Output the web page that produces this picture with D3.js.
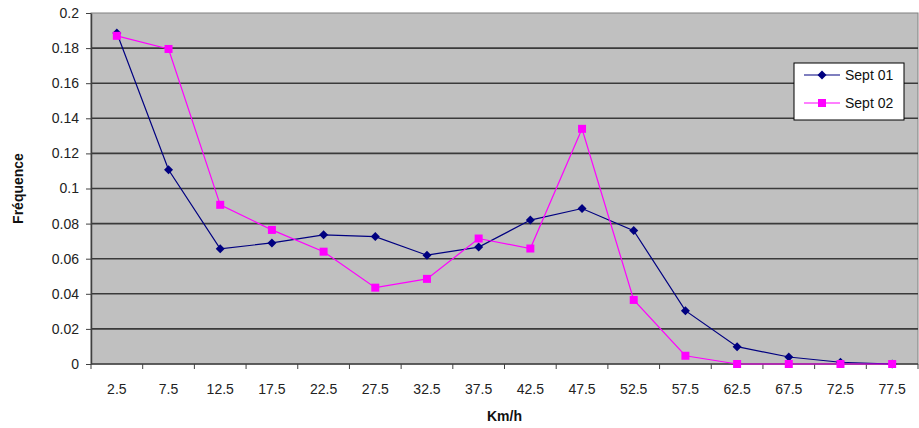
<!DOCTYPE html>
<html>
<head>
<meta charset="utf-8">
<script src="https://cdn.jsdelivr.net/npm/d3@7"></script>
<style>
  html, body { margin: 0; padding: 0; background: #fff; }
  svg { display: block; font-family: Arial, "Liberation Sans", sans-serif; }
</style>
</head>
<body>
<svg id="chart" width="919" height="428"></svg>
<script>
// Speed classes (km/h) and frequency per class
const speeds = ["2.5","7.5","12.5","17.5","22.5","27.5","32.5","37.5","42.5","47.5","52.5","57.5","62.5","67.5","72.5","77.5"];
const sept01 = [0.1886,0.1107,0.0656,0.069,0.0736,0.0726,0.062,0.0666,0.082,0.0886,0.076,0.0304,0.0099,0.004,0.001,0];
const sept02 = [0.187,0.1795,0.0907,0.0764,0.064,0.0435,0.0485,0.0715,0.0658,0.134,0.0365,0.0047,0,0,0,0];
const yTicks = [0,0.02,0.04,0.06,0.08,0.1,0.12,0.14,0.16,0.18,0.2];
const seriesNames = ["Sept 01","Sept 02"];

const svg = d3.select("#chart");
const plot = {left: 91, top: 13, right: 918, bottom: 364};

const x = d3.scaleBand().domain(speeds).range([plot.left, plot.right]);
const y = d3.scaleLinear().domain([0, 0.2]).range([plot.bottom, plot.top]);

// plot background
svg.append("rect")
  .attr("x", plot.left).attr("y", plot.top)
  .attr("width", plot.right - plot.left).attr("height", plot.bottom - plot.top)
  .attr("fill", "#c0c0c0").attr("stroke", "#808080").attr("stroke-width", 1);

// horizontal gridlines
svg.append("g").selectAll("line").data(yTicks.filter(d => d > 0 && d < 0.2)).join("line")
  .attr("x1", plot.left).attr("x2", plot.right)
  .attr("y1", d => y(d)).attr("y2", d => y(d))
  .attr("stroke", "#3a3a3a").attr("stroke-width", 1.6);

// y axis
const yAxis = svg.append("g").attr("transform", `translate(${plot.left},0)`)
  .call(d3.axisLeft(y).tickValues(yTicks).tickFormat(d => String(+d.toFixed(2))).tickSizeOuter(0).tickSizeInner(5).tickPadding(7));
yAxis.select(".domain").attr("stroke", "#404040").attr("stroke-width", 1.5);
yAxis.selectAll(".tick line").attr("stroke", "#404040");
yAxis.selectAll("text").attr("font-size", 14).attr("fill", "#222");

// x axis: ticks sit on category boundaries
const xAxis = svg.append("g").attr("transform", `translate(0,${plot.bottom})`);
xAxis.append("line").attr("x1", plot.left).attr("x2", plot.right).attr("stroke", "#404040").attr("stroke-width", 1.5);
xAxis.selectAll("line.tk").data(speeds.concat(["end"])).join("line").attr("class", "tk")
  .attr("x1", (d, i) => plot.left + i * x.bandwidth()).attr("x2", (d, i) => plot.left + i * x.bandwidth())
  .attr("y1", 0).attr("y2", 5).attr("stroke", "#404040");
xAxis.selectAll("text").data(speeds).join("text")
  .attr("x", d => x(d) + x.bandwidth() / 2).attr("y", 30)
  .attr("text-anchor", "middle").attr("font-size", 14).attr("fill", "#222").text(d => d);

// axis titles
svg.append("text").attr("transform", `translate(23,${(plot.top + plot.bottom) / 2}) rotate(-90)`)
  .attr("text-anchor", "middle").attr("font-size", 14).attr("font-weight", "bold").attr("fill", "#111").text("Fréquence");
svg.append("text").attr("x", (plot.left + plot.right) / 2).attr("y", 421)
  .attr("text-anchor", "middle").attr("font-size", 14).attr("font-weight", "bold").attr("fill", "#111").text("Km/h");

const cx = d => x(d) + x.bandwidth() / 2;
const line = d3.line().x((d, i) => cx(speeds[i])).y(d => y(d));

// Sept 01 series (navy, diamonds)
svg.append("path").datum(sept01).attr("d", line).attr("fill", "none").attr("stroke", "#000080").attr("stroke-width", 1.2);
svg.append("g").selectAll("path").data(sept01).join("path")
  .attr("transform", (d, i) => `translate(${cx(speeds[i])},${y(d)})`)
  .attr("d", "M0,-4.5L4.5,0L0,4.5L-4.5,0Z").attr("fill", "#000080");

// Sept 02 series (magenta, squares)
svg.append("path").datum(sept02).attr("d", line).attr("fill", "none").attr("stroke", "#ff00ff").attr("stroke-width", 1.2);
svg.append("g").selectAll("rect").data(sept02).join("rect")
  .attr("x", (d, i) => cx(speeds[i]) - 4).attr("y", d => y(d) - 4)
  .attr("width", 8).attr("height", 8).attr("fill", "#ff00ff");

// legend
const lg = svg.append("g").attr("transform", "translate(794,63)");
lg.append("rect").attr("width", 110).attr("height", 57).attr("fill", "#fff").attr("stroke", "#000").attr("stroke-width", 1);
const colors = ["#000080", "#ff00ff"];
seriesNames.forEach((name, i) => {
  const yy = 12 + i * 28;
  lg.append("line").attr("x1", 10).attr("x2", 46).attr("y1", yy).attr("y2", yy).attr("stroke", colors[i]).attr("stroke-width", 1.2);
  if (i === 0) lg.append("path").attr("transform", `translate(28,${yy})`).attr("d", "M0,-4.5L4.5,0L0,4.5L-4.5,0Z").attr("fill", colors[i]);
  else lg.append("rect").attr("x", 24).attr("y", yy - 4).attr("width", 8).attr("height", 8).attr("fill", colors[i]);
  lg.append("text").attr("x", 51).attr("y", yy + 5).attr("font-size", 14).attr("fill", "#111").text(name);
});
</script>
</body>
</html>
